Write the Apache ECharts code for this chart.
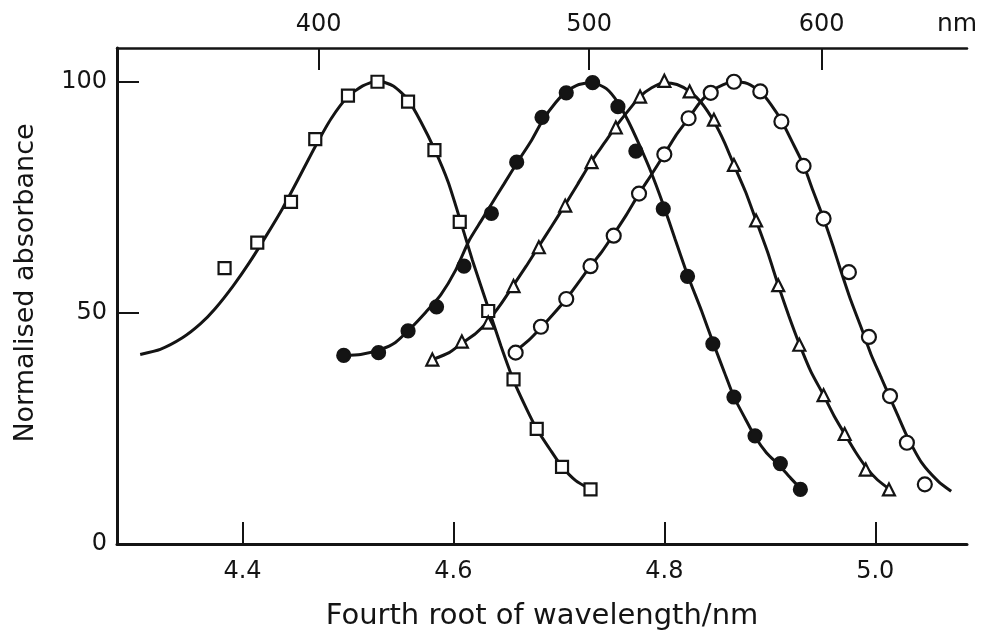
<!DOCTYPE html>
<html><head><meta charset="utf-8">
<script src="https://cdn.jsdelivr.net/npm/echarts@6/dist/echarts.min.js"></script>
<style>html,body{margin:0;padding:0;background:#fff}#c{width:986px;height:636px}</style>
</head><body><div id="c"></div>
<script>
// ---- data (x = fourth root of wavelength, y = normalised absorbance) ----
const squareX = [4.383,4.414,4.446,4.469,4.500,4.528,4.557,4.582,4.606,4.633,4.657,4.679,4.703,4.730];
const squareY = [59.7,65.2,74.0,87.6,97.0,100,95.7,85.2,69.7,50.4,35.6,24.9,16.7,11.8];
const filledX = [4.496,4.529,4.557,4.584,4.610,4.636,4.660,4.684,4.707,4.732,4.756,4.773,4.799,4.822,4.846,4.866,4.886,4.910,4.929];
const filledY = [40.8,41.4,46.1,51.3,60.1,71.5,82.6,92.3,97.6,99.8,94.6,85.0,72.5,57.9,43.3,31.8,23.4,17.4,11.8];
const triX = [4.580,4.608,4.633,4.657,4.681,4.706,4.731,4.754,4.777,4.800,4.824,4.847,4.866,4.887,4.908,4.928,4.951,4.971,4.991,5.013];
const triY = [39.9,43.8,47.9,55.8,64.2,73.2,82.6,90.1,96.8,100.2,97.9,91.8,82.0,70.0,56.0,43.1,32.2,23.8,16.1,11.8];
const openX = [4.659,4.683,4.707,4.730,4.752,4.776,4.800,4.823,4.844,4.866,4.891,4.911,4.932,4.951,4.975,4.994,5.014,5.030,5.047];
const openY = [41.4,47.0,53.0,60.1,66.7,75.8,84.3,92.1,97.6,100,97.9,91.4,81.8,70.4,58.8,44.8,32.0,21.9,12.9];

// fitted curves
const squareCurveX = [4.303,4.322,4.343,4.360,4.374,4.391,4.406,4.422,4.438,4.453,4.469,4.484,4.500,4.514,4.528,4.543,4.557,4.569,4.582,4.595,4.606,4.618,4.633,4.645,4.657,4.669,4.679,4.693,4.703,4.716,4.730];
const squareCurveY = [41.0,42.1,44.6,47.6,50.9,55.8,60.7,66.5,72.6,79.0,86.0,92.0,96.8,99.1,100.2,99.1,96.1,91.4,85.4,78.3,70.4,61.4,51.1,42.9,35.4,29.4,24.9,20.0,16.7,13.7,11.8];
const filledCurveX = [4.496,4.512,4.531,4.545,4.560,4.574,4.588,4.602,4.615,4.626,4.636,4.648,4.661,4.674,4.685,4.697,4.707,4.719,4.732,4.745,4.756,4.766,4.776,4.787,4.799,4.810,4.822,4.835,4.847,4.857,4.866,4.877,4.886,4.897,4.909,4.920,4.930];
const filledCurveY = [40.8,41.0,42.1,43.6,46.8,50.2,53.9,59.2,65.7,69.8,73.5,77.9,82.7,87.3,91.8,95.5,97.9,99.4,99.8,98.5,95.5,91.4,86.5,80.7,73.4,66.1,58.2,50.6,43.1,37.1,31.8,27.0,23.2,19.7,17.0,14.2,11.8];
const triCurveX = [4.580,4.596,4.609,4.621,4.633,4.645,4.657,4.669,4.681,4.693,4.706,4.718,4.731,4.743,4.754,4.766,4.777,4.788,4.800,4.812,4.824,4.835,4.847,4.857,4.866,4.877,4.887,4.898,4.908,4.918,4.928,4.939,4.951,4.961,4.971,4.981,4.991,5.002,5.015];
const triCurveY = [39.9,41.4,43.6,45.5,48.3,51.9,56.0,60.1,64.4,68.7,73.4,77.9,82.8,86.7,90.3,93.8,96.8,98.7,99.8,99.4,97.9,95.5,91.4,86.9,82.0,76.2,70.0,63.1,56.0,49.4,43.3,37.3,32.2,27.7,23.8,20.0,16.7,13.9,11.6];
const openCurveX = [4.656,4.671,4.683,4.695,4.707,4.718,4.730,4.741,4.752,4.764,4.776,4.788,4.800,4.811,4.823,4.833,4.844,4.856,4.866,4.879,4.891,4.901,4.911,4.921,4.932,4.941,4.951,4.960,4.967,4.977,4.987,4.996,5.006,5.014,5.022,5.030,5.044,5.060,5.072];
const openCurveY = [41.2,44.0,46.8,49.8,53.0,56.4,60.1,63.3,67.0,71.2,75.8,80.0,84.3,88.4,92.1,95.3,97.9,99.4,100,99.6,97.9,95.1,91.6,87.1,82.0,76.4,70.4,64.4,59.4,52.6,46.6,41.0,35.8,31.6,27.5,23.4,17.6,13.5,11.4];

const yTicks = [0, 50, 100];
const xTicks = [4.4, 4.6, 4.8, 5.0];
const topTicksNm = [400, 500, 600];

const pairs = (xs, ys) => xs.map((x, i) => [x, ys[i]]);
const topTickPos = topTicksNm.map(nm => Math.pow(nm, 0.25));

const FONT = 'DejaVu Sans';
const INK = '#141414';
const X_MIN = 4.281, X_MAX = 5.087;
const txt = (size) => ({fontFamily: FONT, fontSize: size, color: INK});

const chart = echarts.init(document.getElementById('c'), null, {renderer: 'canvas'});

function curve(xs, ys) {
  return {type: 'line', data: pairs(xs, ys), smooth: 0.2, showSymbol: false, silent: true,
    lineStyle: {color: INK, width: 3}, z: 2};
}
function marks(xs, ys, symbol, fill, size) {
  return {type: 'scatter', data: pairs(xs, ys), symbol: symbol, symbolSize: size, silent: true,
    itemStyle: {color: fill, borderColor: INK, borderWidth: 2.2, opacity: 1}, z: 5};
}

chart.setOption({
  animation: false,
  backgroundColor: '#fff',
  grid: {left: 117, right: 19, top: 48, bottom: 91},
  xAxis: [
    {type: 'value', position: 'bottom', min: X_MIN, max: X_MAX,
     name: 'Fourth root of wavelength/nm', nameLocation: 'middle', nameGap: 58,
     nameTextStyle: txt(29),
     axisLine: {lineStyle: {color: INK, width: 3}},
     axisTick: {inside: true, length: 22, lineStyle: {color: INK, width: 2}, customValues: xTicks},
     axisLabel: Object.assign({customValues: xTicks, margin: 16, formatter: v => v.toFixed(1)}, txt(24)),
     splitLine: {show: false}},
    {type: 'value', position: 'top', min: X_MIN, max: X_MAX,
     axisLine: {lineStyle: {color: INK, width: 2.5}},
     axisTick: {inside: true, length: 22, lineStyle: {color: INK, width: 2}, customValues: topTickPos},
     axisLabel: Object.assign({customValues: topTickPos, margin: 11,
       formatter: v => String(Math.round(Math.pow(v, 4)))}, txt(24)),
     splitLine: {show: false}}
  ],
  yAxis: {type: 'value', min: 0, max: 107.3,
    name: 'Normalised absorbance', nameLocation: 'middle', nameGap: 78,
    nameTextStyle: Object.assign({padding: [0, 0, 0, 26]}, txt(27)),
    axisLine: {show: true, lineStyle: {color: INK, width: 3}},
    axisTick: {inside: true, length: 22, lineStyle: {color: INK, width: 2}, customValues: yTicks},
    axisLabel: Object.assign({customValues: yTicks, margin: 10}, txt(24)),
    splitLine: {show: false}},
  graphic: [{type: 'text', left: 937, top: 12,
    style: {text: 'nm', font: '25px "DejaVu Sans"', fill: INK}}],
  series: [
    curve(squareCurveX, squareCurveY),
    curve(filledCurveX, filledCurveY),
    curve(triCurveX, triCurveY),
    curve(openCurveX, openCurveY),
    marks(squareX, squareY, 'rect', '#fff', 12),
    marks(filledX, filledY, 'circle', INK, 13),
    marks(triX, triY, 'triangle', '#fff', 12),
    marks(openX, openY, 'circle', '#fff', 14)
  ]
});
</script></body></html>
